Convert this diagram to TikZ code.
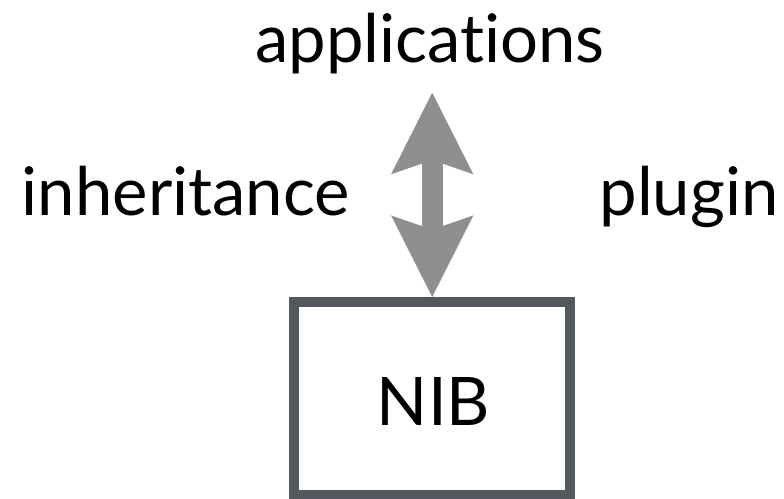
\documentclass[tikz,border=0pt]{standalone}
\usepackage{fontspec}
\setmainfont{Lato}[Ligatures={NoCommon,NoContextual}]
\usetikzlibrary{arrows.meta}
\definecolor{boxgray}{HTML}{53575E}
\definecolor{arrowgray}{HTML}{8F8F8F}
\tikzset{
  label text/.style={font=\fontsize{67}{67}\selectfont, text=black, inner sep=0pt, anchor=base},
  nib box/.style={draw=boxgray, line width=10pt, fill=white, minimum width=276pt, minimum height=193pt, inner sep=0pt},
  link arrow/.style={draw=arrowgray, line width=20.7pt,
    {Stealth[length=81.6pt, width=82.3pt, inset=14.3pt, line width=0pt, fill=arrowgray]}-{Stealth[length=81.6pt, width=82.3pt, inset=14.3pt, line width=0pt, fill=arrowgray]}}
}
\begin{document}
\begin{tikzpicture}[x=1pt, y=-1pt]
  \useasboundingbox (0,0) rectangle (784,498);
  \node[label text] (apps) at (430,62.7) {applications};
  \node[label text] (inherit) at (186,215.7) {inheritance};
  \node[label text] (plug) at (689,215.7) {plugin};
  \node[nib box] (nib) at (432.2,398.5) {};
  \node[label text] at (433.5,425) (nibtext) {NIB};
  \coordinate (arrowtop) at (432.2,92.7);
  \draw[link arrow] (arrowtop) -- (nib.north);
\end{tikzpicture}
\end{document}
